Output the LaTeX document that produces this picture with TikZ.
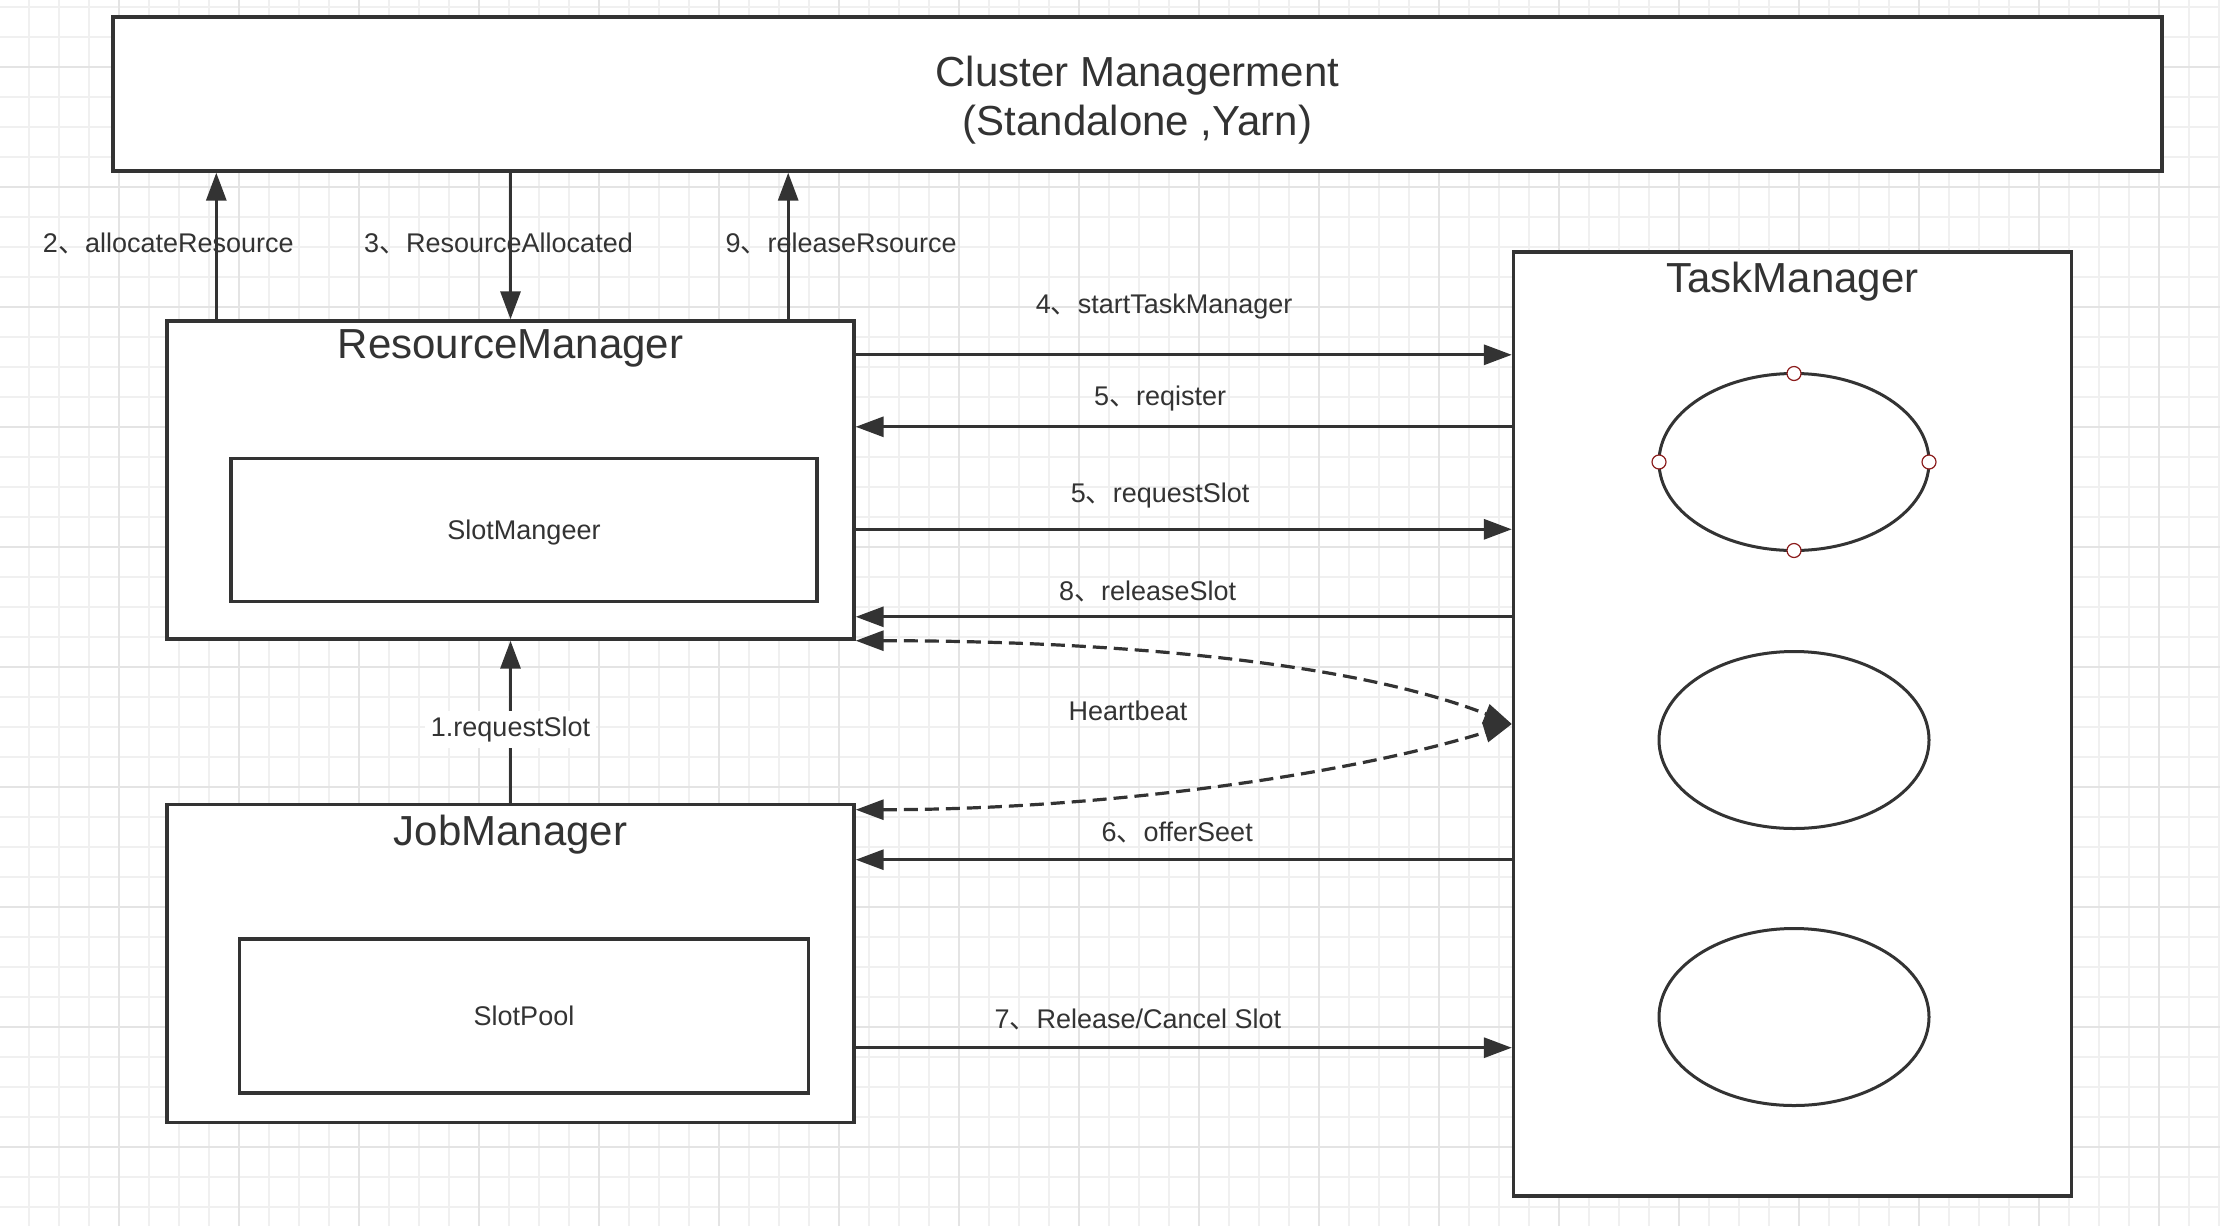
\documentclass[tikz,border=0pt]{standalone}
\usepackage{fontspec}
\setmainfont{Liberation Sans}
\newfontfamily\cjk{Noto Sans CJK SC}
\usepackage{tikz}
\usetikzlibrary{arrows.meta, positioning, calc, shapes.geometric}
\definecolor{ink}{HTML}{333333}
\definecolor{gridminor}{HTML}{F0F0F0}
\definecolor{gridmajor}{HTML}{E4E4E4}
\definecolor{handlered}{HTML}{8B1C1C}
\tikzset{
    panel/.style={
        rectangle,
        draw=ink,
        line width=1.7pt,
        fill=white,
        inner sep=0pt,
        text=ink
    },
    headline/.style={
        font=\fontsize{21}{24.5}\selectfont,
        text=ink,
        inner sep=0pt
    },
    lbl/.style={
        font=\fontsize{13.5}{16}\selectfont,
        text=ink,
        inner sep=1pt
    },
    slot/.style={
        ellipse,
        draw=ink,
        line width=1.5pt,
        fill=white,
        minimum width=135pt,
        minimum height=88.5pt,
        inner sep=0pt,
        outer sep=0pt
    },
    handle/.style={
        circle,
        draw=handlered,
        fill=white,
        line width=0.6pt,
        minimum size=7pt,
        inner sep=0pt
    },
    wire/.style={
        draw=ink,
        line width=1.6pt,
        -{Triangle[length=14pt,width=10pt]}
    },
    beat/.style={
        draw=ink,
        line width=1.6pt,
        dash pattern=on 7pt off 3.5pt,
        {Triangle[length=14pt,width=10pt]}-{Triangle[length=14pt,width=10pt]}
    }
}

\begin{document}
\begin{tikzpicture}[x=0.5pt, y=-0.5pt]
\useasboundingbox (0,0) rectangle (2220,1226);

% Background grid
\fill[white] (0,0) rectangle (2220,1226);
\foreach \gx in {29,59,...,2219} \draw[gridminor, line width=0.6pt] (\gx,0) -- (\gx,1226);
\foreach \gy in {7,37,...,1226} \draw[gridminor, line width=0.6pt] (0,\gy) -- (2220,\gy);
\foreach \gx in {119,239,...,2219} \draw[gridmajor, line width=0.6pt] (\gx,0) -- (\gx,1226);
\foreach \gy in {67,187,...,1226} \draw[gridmajor, line width=0.6pt] (0,\gy) -- (2220,\gy);

% Top - Cluster
\node[panel, minimum width=1024.5pt, minimum height=77pt] (cluster) at (1137.5,94) {};
\node[headline, align=center] (cluster_title) at (1137.5,100) {Cluster Managerment\\(Standalone ,Yarn)};

% Left side - ResourceManager and JobManager
\node[panel, minimum width=343.5pt, minimum height=159pt] (rm) at (510.5,480) {};
\node[headline, below=5pt of rm.north] (rm_title) {ResourceManager};
\node[panel, lbl, text depth=0pt, minimum width=293pt, minimum height=71.5pt] (slotmgr) at (524,530) {SlotMangeer};

\node[panel, minimum width=343.5pt, minimum height=159pt, below=81pt of rm] (jm) {};
\node[headline, below=6pt of jm.north] (jm_title) {JobManager};
\node[panel, lbl, text depth=0pt, minimum width=284.5pt, minimum height=77pt] (slotpool) at (524,1016) {SlotPool};

% Right side - TaskManager
\node[panel, minimum width=279pt, minimum height=472pt] (tm) at (1792.5,724) {};
\node[headline, below=5.5pt of tm.north] (tm_title) {TaskManager};

\node[slot] (slot1) at (1794,462) {};
\node[slot] (slot2) at (1794,740) {};
\node[slot] (slot3) at (1794,1017) {};
\foreach \side in {north,south,east,west}
    \node[handle] (h_\side) at (slot1.\side) {};

% Cluster <-> ResourceManager
\coordinate (up2) at ($(rm.north west)+(51,0)$);
\coordinate (up9) at ($(rm.north east)+(-67.5,0)$);
\draw[wire] (up2) -- (up2 |- cluster.south) node[lbl, midway, xshift=-24pt, yshift=1.5pt] (l2) {2{\cjk 、}allocateResource};
\draw[wire] (cluster.south -| rm.north) -- (rm.north) node[lbl, midway, xshift=-6pt, yshift=1.5pt] (l3) {3{\cjk 、}ResourceAllocated};
\draw[wire] (up9) -- (up9 |- cluster.south) node[lbl, midway, xshift=26.5pt, yshift=1.5pt] (l9) {9{\cjk 、}releaseRsource};

% ResourceManager <-> TaskManager
\coordinate (a4) at ($(rm.north east)+(0,35.5)$);
\coordinate (a5) at ($(rm.north east)+(0,107.5)$);
\coordinate (a5b) at ($(rm.north east)+(0,210)$);
\coordinate (a8) at ($(rm.north east)+(0,297.5)$);
\draw[wire] (a4) -- (a4 -| tm.west) node[lbl, pos=0.47, yshift=24pt] (l4) {4{\cjk 、}startTaskManager};
\draw[wire] (a5 -| tm.west) -- (a5) node[lbl, pos=0.536, yshift=14pt] (l5) {5{\cjk 、}reqister};
\draw[wire] (a5b) -- (a5b -| tm.west) node[lbl, pos=0.464, yshift=17pt] (l5b) {5{\cjk 、}requestSlot};
\draw[wire] (a8 -| tm.west) -- (a8) node[lbl, pos=0.555, yshift=12.5pt] (l8) {8{\cjk 、}releaseSlot};

% Heartbeat
\coordinate (b1) at ($(jm.north east)+(0,7)$);
\draw[beat] (rm.south east) .. controls +(245,0) and +(-164,-64) .. (tm.west);
\draw[beat] (b1) .. controls +(245,0) and +(-164,51) .. (tm.west);
\node[lbl] (heartbeat) at (1128,711) {Heartbeat};

% JobManager <-> TaskManager
\coordinate (a6) at ($(jm.north east)+(0,57)$);
\coordinate (a7) at ($(jm.north east)+(0,245)$);
\draw[wire] (a6 -| tm.west) -- (a6) node[lbl, pos=0.51, yshift=13.5pt] (l6) {6{\cjk 、}offerSeet};
\draw[wire] (a7) -- (a7 -| tm.west) node[lbl, pos=0.43, yshift=14pt] (l7) {7{\cjk 、}Release/Cancel Slot};

% JobManager -> ResourceManager
\draw[wire] (jm.north) -- (rm.south) node[lbl, midway, fill=white, inner sep=3pt, yshift=-4pt] (l1) {1.requestSlot};

\end{tikzpicture}
\end{document}
